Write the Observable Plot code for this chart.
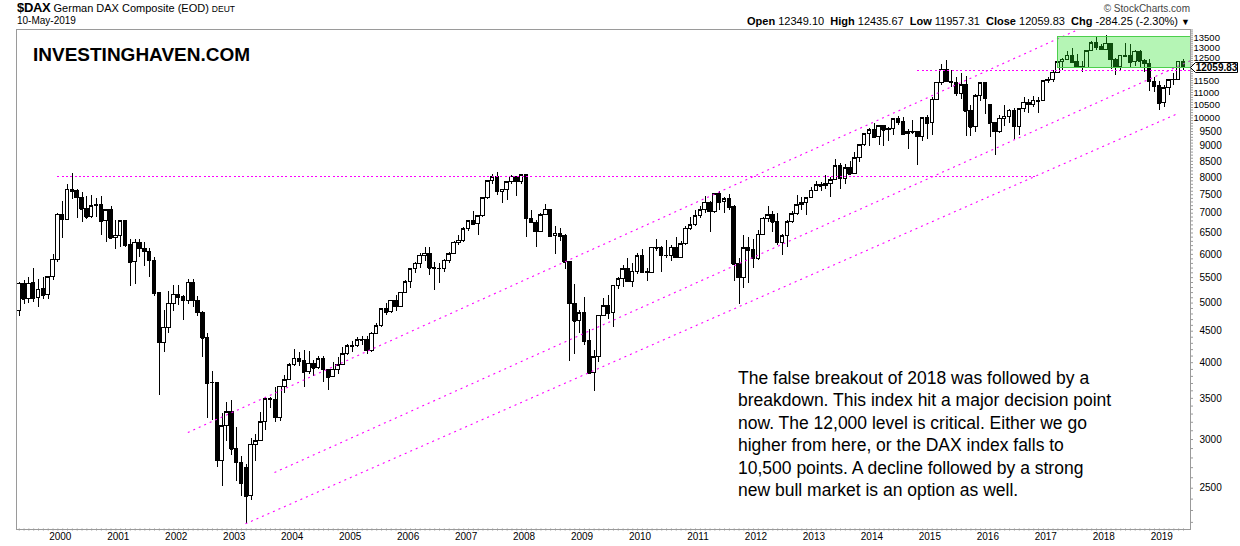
<!DOCTYPE html>
<html>
<head>
<meta charset="utf-8">
<script src="https://cdn.jsdelivr.net/npm/d3@7"></script>
<script src="https://cdn.jsdelivr.net/npm/@observablehq/plot@0.6"></script>
<style>
  html, body { margin: 0; padding: 0; background: #fff; }
  body { font-family: "Liberation Sans", Arial, sans-serif; color: #000; }
  #wrap { position: relative; width: 1240px; height: 546px; overflow: hidden; }
  #chart { position: absolute; left: 0; top: 0; }
  .abs { position: absolute; white-space: nowrap; }
  .hdr b { font-weight: bold; }
</style>
</head>
<body>
<div id="wrap">
  <div id="chart"></div>
  <div class="abs hdr" style="left:17px;top:1px;font-size:11px;line-height:14px;"><b style="font-size:13px;letter-spacing:-0.3px;">$DAX</b> German DAX Composite (EOD) <span style="font-size:8.5px;">DEUT</span></div>
  <div class="abs" style="left:17px;top:14px;font-size:10px;line-height:13px;">10-May-2019</div>
  <div class="abs" style="right:50px;top:2px;font-size:10px;line-height:13px;color:#444;">© StockCharts.com</div>
  <div class="abs hdr" style="right:50px;top:14px;font-size:11px;line-height:14px;"><b>Open</b> 12349.10&nbsp; <b>High</b> 12435.67&nbsp; <b>Low</b> 11957.31&nbsp; <b>Close</b> 12059.83&nbsp; <b>Chg</b> -284.25 (-2.30%) <span style="font-size:9px;">&#9660;</span></div>
  <div class="abs" style="left:33px;top:45px;font-size:19px;line-height:20px;font-weight:bold;">INVESTINGHAVEN.COM</div>
  <div class="abs" style="left:738px;top:367px;font-size:17.5px;line-height:22.4px;">The false breakout of 2018 was followed by a<br>breakdown. This index hit a major decision point<br>now. The 12,000 level is critical. Either we go<br>higher from here, or the DAX index falls to<br>10,500 points. A decline followed by a strong<br>new bull market is an option as well.</div>
</div>
<script>
// First candle: April 1999, monthly candles through May 2019
const startYear = 1999, startMonth = 4;

const opens = [
  4850,5375,5070,5400,5090,5280,5150,5510,5880,
  6958,6835,7640,7599,7414,7109,6898,7190,7216,6798,7078,6372,
  6434,6795,6208,5830,6264,6123,6058,5861,5188,4308,4559,4990,
  5160,5107,5039,5397,5041,4818,4383,3701,3712,2769,3153,3320,
  2893,2748,2700,2424,2942,2982,3200,3487,3484,3257,3656,3745,
  3965,4058,4018,3856,3985,3921,4052,3895,3785,3893,3960,4126,
  4256,4254,4350,4349,4185,4460,4587,4887,4829,5044,4929,5193,
  5408,5674,5797,5970,6009,5693,5683,5682,5860,6004,6269,6309,
  6597,6789,6716,6917,7409,7884,8007,7584,7638,7862,8020,7871,
  8067,6852,6748,6535,6949,7097,6418,6480,6422,5831,4988,4669,
  4810,4338,3843,4085,4770,4941,4809,5332,5465,5675,5415,5625,
  5957,5608,5598,6154,6136,5964,5966,6148,5925,6229,6601,6688,
  6914,7077,7273,7041,7514,7294,7376,7159,5785,5502,6141,6089,
  5898,6458,6856,6947,6762,6264,6416,6772,6970,7216,7260,7406,
  7612,7776,7742,7795,7914,8349,7959,8276,8104,8594,9033,9406,
  9552,9306,9692,9556,9603,9943,9833,9407,9470,9474,9327,9981,
  9806,10694,11402,11966,11454,11414,10945,11309,10259,9660,10850,11382,
  10485,9798,9495,9966,10039,10263,9680,10337,10593,10511,10665,10640,
  11481,11535,11834,12313,12438,12615,12325,12118,12056,12829,13230,13024,
  12918,13189,12436,12097,12612,12605,12306,12806,12364,12247,11448,11257,
  10559,11173,11516,11526,12349.10
];
const highs = [
  5400,5440,5500,5690,5460,5510,5530,6000,6980,
  7320,7800,8136,7650,7560,7450,7490,7400,7450,7100,7180,6810,
  6800,6810,6340,6340,6340,6270,6130,5930,5210,4870,5230,5340,
  5340,5150,5460,5460,5120,4840,4460,3870,3720,3310,3450,3476,
  3140,2810,2730,3010,3060,3325,3515,3515,3650,3660,3810,3990,
  4200,4160,4180,4175,4030,4100,4100,3900,4000,4075,4240,4280,
  4330,4400,4420,4410,4470,4640,4900,4990,5050,5140,5210,5440,
  5690,5820,6020,6160,6162,5830,5800,5880,6040,6300,6430,6630,
  6800,7040,6940,7420,7900,8090,8151,7650,7880,8050,8040,8100,
  8100,7080,6800,6980,7231,7100,6650,6600,6470,5850,5360,4870,
  5110,4530,4180,4780,5080,5150,5340,5500,5760,5900,5800,6010,
  6110,5700,6160,6340,6170,6330,6200,6390,6300,6650,6890,7080,
  7180,7440,7300,7530,7600,7420,7520,7200,5900,6430,6390,6340,
  6550,6880,7190,7040,6990,6470,6800,7040,7480,7420,7420,7700,
  7870,7860,8060,8000,8560,8420,8400,8480,8770,9060,9420,9600,
  9800,9720,9720,9630,9970,10050,10030,9560,9890,9480,10000,10090,
  10810,11420,12220,12390,11930,11620,11800,11670,10480,10900,11430,11400,
  10490,9840,10100,10490,10330,10340,10340,10800,10700,10830,10810,11490,
  11640,11960,12320,12480,12840,12950,12680,12330,12830,13300,13530,13160,
  13597,13200,12500,12650,13200,13170,12860,12890,12460,12460,11650,11480,
  11300,11560,11820,12360,12435.67
];
const lows = [
  4760,4970,5000,5010,4920,5060,5060,5450,5830,
  6370,6830,7360,6870,6760,6830,6850,6900,6450,6275,6340,6100,
  6150,6150,5320,5360,5940,5735,5510,5120,3540,4150,4460,4850,
  4960,4690,4970,4920,4750,4080,3250,3220,2700,2520,2980,2825,
  2560,2420,2188,2390,2760,2980,3100,3370,3200,3210,3570,3740,
  3940,3940,3650,3830,3800,3900,3720,3610,3780,3830,3955,4110,
  4160,4240,4270,4130,4150,4440,4560,4770,4800,4850,4920,5180,
  5290,5580,5700,5850,5550,5243,5380,5610,5800,5990,6200,6280,
  6540,6680,6440,6900,7370,7800,7480,7270,7350,7800,7450,7790,
  6384,6740,6167,6500,6940,6400,6003,6300,5660,4014,4130,4460,
  4260,3840,3588,4000,4760,4700,4570,5260,5300,5400,5310,5570,
  5600,5430,5590,6070,5600,5900,5840,5900,5920,6200,6560,6660,
  6860,7000,6510,7000,7080,6980,7060,5430,4965,5280,5370,5700,
  5860,6430,6750,6500,6210,5970,6160,6730,6930,7080,6950,7400,
  7600,7580,7640,7420,7900,7650,7780,8050,8100,8450,9000,9000,
  9260,9020,8990,9170,9360,9730,9410,8900,9400,8355,9150,9220,
  9380,10660,11300,11450,11200,10850,10700,9340,9330,9480,10650,10120,
  9310,8700,9450,9700,9800,9210,9370,10200,10180,10390,10170,10620,
  11390,11430,11800,11930,12410,12320,12050,11870,12040,12800,12850,12850,
  12900,12000,11730,11900,12560,12100,12110,12100,11870,11050,11010,10280,
  10390,10870,11300,11500,11957.31
];
const closes = [
  5375,5070,5375,5090,5255,5150,5510,5880,6958,
  6835,7640,7599,7414,7109,6898,7190,7216,6798,7078,6372,6434,
  6795,6208,5830,6264,6123,6058,5861,5188,4308,4559,4990,5160,
  5107,5039,5397,5041,4818,4383,3701,3712,2769,3153,3320,2893,
  2748,2547,2424,2942,2982,3200,3487,3484,3257,3656,3745,3965,
  4058,4018,3856,3985,3921,4052,3895,3785,3893,3960,4126,4256,
  4254,4350,4349,4185,4460,4587,4887,4829,5044,4929,5193,5408,
  5674,5797,5970,6009,5693,5683,5682,5860,6004,6269,6309,6597,
  6789,6716,6917,7409,7884,8007,7584,7638,7862,8020,7871,8067,
  6852,6748,6535,6949,7097,6418,6480,6422,5831,4988,4669,4810,
  4338,3843,4085,4770,4941,4809,5332,5465,5675,5415,5625,5957,
  5608,5598,6154,6136,5964,5966,6148,5925,6229,6601,6688,6914,
  7077,7273,7041,7514,7294,7376,7159,5785,5502,6141,6089,5898,
  6458,6856,6947,6762,6264,6416,6772,6970,7216,7260,7406,7612,
  7776,7742,7795,7914,8349,7959,8276,8104,8594,9033,9406,9552,
  9306,9692,9556,9603,9943,9833,9407,9470,9474,9327,9981,9806,
  10694,11402,11966,11454,11414,10945,11309,10259,9660,10850,11382,10743,
  9798,9495,9966,10039,10263,9680,10337,10593,10511,10665,10640,11481,
  11535,11834,12313,12438,12615,12325,12118,12056,12829,13230,13024,12918,
  13189,12436,12097,12612,12605,12306,12806,12364,12247,11448,11257,10559,
  11173,11516,11526,12344,12059.83
];

const years = d3.range(2000, 2020);
// labelled price levels (12000 is covered by the last-close label)
const priceTicks = [2500,3000,3500,4000,4500,5000,5500,6000,6500,7000,7500,8000,8500,9000,9500,10000,10500,11000,11500,12500,13000,13500];
const minorTicks = d3.range(2200, 13901, 100);
const lastClose = 12059.83;

// Annotations (month index from Jan 2000 = 0, price level)
const channelStartM = [25.9, 43.84, 37.84];
const channelStartV = [3080, 2651, 2188];
const channelEndM   = [215, 236, 230.4];
const channelEndV   = [14480, 12650, 10130];
const levelStartM = [-1.1, 176.9];
const levelEndM   = [201.4, 240];
const levelValue  = [8030, 11930];
const boxM = [206.0, 240];
const boxV = [12033, 13548];

// derived tables
const monthIndex = i => (startYear - 2000) * 12 + (startMonth - 1) + i;
const rows = closes.map((c, i) => ({m: monthIndex(i), o: opens[i], h: highs[i], l: lows[i], c}));
const channels = channelStartM.map((m, i) => ({x1: m, y1: channelStartV[i], x2: channelEndM[i], y2: channelEndV[i]}));
const levels = levelValue.map((v, i) => ({x1: levelStartM[i], x2: levelEndM[i], v}));
const box = [{x1: boxM[0], x2: boxM[1], y1: boxV[0], y2: boxV[1]}];
const yearPos = years.map(y => (y - 2000) * 12 - 0.5);
const monthTicks = rows.map(d => d.m);

const hw = 0.36;
const chart = Plot.plot({
  width: 1240, height: 546,
  marginTop: 29, marginRight: 50, marginBottom: 17.5, marginLeft: 16,
  style: {fontFamily: "'Liberation Sans', Arial, sans-serif", fontSize: "10px", background: "transparent", color: "#000", overflow: "visible"},
  x: {type: "linear", domain: [-9.563, 233.45], axis: null},
  y: {type: "log", domain: [2146, 13924], axis: null},
  marks: [
    Plot.axisY({anchor: "right", ticks: minorTicks, tickSize: 2, tickFormat: () => "", stroke: "#999"}),
    Plot.axisY({anchor: "right", ticks: priceTicks.filter(v => v < 10000), tickSize: 0, tickPadding: 9, fontSize: 10, tickFormat: d => String(d)}),
    Plot.axisY({anchor: "right", ticks: priceTicks.filter(v => v >= 10000), tickSize: 0, tickPadding: 3, fontSize: 9.5, tickFormat: d => String(d)}),
    Plot.axisX({anchor: "bottom", ticks: monthTicks, tickSize: 2, tickFormat: () => "", stroke: "#999"}),
    Plot.axisX({anchor: "bottom", ticks: yearPos, tickSize: 0, tickPadding: 4, fontSize: 10,
      tickFormat: m => String(Math.round((m + 0.5) / 12) + 2000)}),
    Plot.ruleX(rows, {x: "m", y1: "l", y2: "h", stroke: "#000", strokeWidth: 1, shapeRendering: "crispEdges"}),
    Plot.rect(rows, {x1: d => d.m - hw, x2: d => d.m + hw, y1: "o", y2: "c",
      fill: d => d.c < d.o ? "#000" : "#fff", stroke: "#000", strokeWidth: 1, shapeRendering: "crispEdges"}),
    Plot.ruleY(rows, {y: "c", x1: d => d.m - hw, x2: d => d.m + hw, stroke: "#000", strokeWidth: 1, shapeRendering: "crispEdges"}),
    Plot.link(channels, {x1: "x1", y1: "y1", x2: "x2", y2: "y2", stroke: "#ff00ff", strokeWidth: 1.1, strokeDasharray: "2,4", clip: true}),
    Plot.link(levels, {x1: "x1", y1: "v", x2: "x2", y2: "v", stroke: "#ff00ff", strokeWidth: 1, strokeDasharray: "2,2.3", clip: true, shapeRendering: "crispEdges"}),
    Plot.rect(box, {x1: "x1", x2: "x2", y1: "y1", y2: "y2", fill: "#26e226", fillOpacity: 0.34, stroke: "#4ccf4c", strokeWidth: 1, clip: true, shapeRendering: "crispEdges"}),
    Plot.frame({stroke: "#9a9a9a", shapeRendering: "crispEdges"})
  ]
});
document.getElementById("chart").appendChild(chart);

// price label box pointing at the last close, placed through the y scale
const svg = chart.tagName.toLowerCase() === "svg" ? chart : chart.querySelector("svg");
const ys = chart.scale("y");
const yv = Math.round(ys.apply(lastClose)) + 0.5;
const x0 = 1240 - 50 + 0.5;
const g = d3.select(svg).append("g");
g.append("path")
  .attr("d", `M${x0},${yv} L${x0 + 5},${yv - 5} L${x0 + 47},${yv - 5} L${x0 + 47},${yv + 5} L${x0 + 5},${yv + 5} Z`)
  .attr("fill", "#fff").attr("stroke", "#000").attr("stroke-width", 1);
g.append("text")
  .attr("x", x0 + 26).attr("y", yv).attr("dy", "0.36em")
  .attr("text-anchor", "middle").attr("font-size", 10).attr("font-weight", "bold")
  .attr("font-family", "'Liberation Sans', Arial, sans-serif")
  .text(lastClose.toFixed(2));
</script>
</body>
</html>
